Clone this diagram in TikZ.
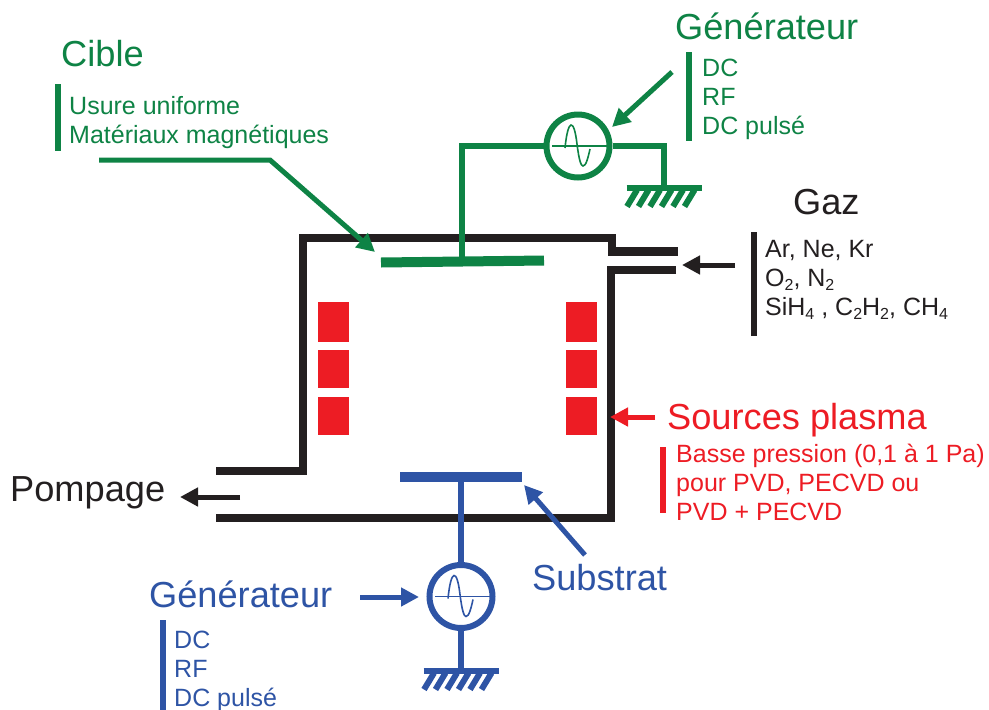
\documentclass[tikz,border=0pt]{standalone}
\usepackage{fontspec}
\setmainfont{Liberation Sans}
\usetikzlibrary{arrows.meta}
\definecolor{cgreen}{RGB}{14,131,69}
\definecolor{cblue}{RGB}{46,84,165}
\definecolor{cred}{RGB}{237,28,36}
\definecolor{cblack}{RGB}{35,31,32}
\tikzset{
  x=1pt,y=-1pt,
  big/.style={inner sep=0pt,anchor=west,font=\fontsize{36.2}{36}\selectfont},
  small/.style={inner sep=0pt,anchor=west,align=left,font=\fontsize{25}{29}\selectfont},
  wall/.style={draw=cblack,line width=8.5pt,line cap=butt,line join=miter},
  lead/.style={line width=5.5pt},
  arrowline/.style={line width=5pt,-{Triangle[length=18pt,width=18pt]}},
  sidebar/.style={line width=5.5pt},
  gencircle/.style={circle,draw,line width=6pt,minimum size=63pt,inner sep=0pt,fill=white},
  magnet/.style={fill=cred,draw=none,minimum width=31pt,inner sep=0pt},
}
\newcommand{\sbs}[1]{\raisebox{-4pt}{\fontsize{16}{16}\selectfont #1}}
\newcommand{\gensym}[2]{%
  \begin{scope}[shift={(#2)}]
  \draw[#1,line width=1.4pt] (-26,0) -- (29,0);
  \draw[#1,line width=1.6pt] (-13,2) .. controls (-10,-28) and (-4,-28) .. (-1,-2)
     .. controls (1,14) and (3,20) .. (5,20) .. controls (8,20) and (10,12) .. (12,3);
  \end{scope}
}
\newcommand{\groundsym}[2]{%
  \draw[#1,line width=6pt] (#2)+(-37.5,0) -- +(37.5,0);
  \foreach \dx in {-30,-18.5,-7,4.5,16,27.5}{
    \draw[#1,line width=6pt] (#2)+(\dx+3,2) -- +(\dx-7,18.5);
  }
}
\begin{document}
\begin{tikzpicture}
\useasboundingbox (0,0) rectangle (989,710);
% chamber
\coordinate (tubeUpEnd) at (678,251.5);
\coordinate (tubeLowEnd) at (676,270);
\coordinate (pumpUp) at (216,471);
\coordinate (pumpLow) at (216,518);
\draw[wall] (pumpUp) -- (303,471) -- (303,238) -- (612,238) -- (612,251.5) -- (tubeUpEnd);
\draw[wall] (tubeLowEnd) -- (611,270) -- (611,518) -- (pumpLow);
% magnets
\node[magnet,minimum height=40pt] (m1) at (333.5,322) {};
\node[magnet,minimum height=38pt] (m2) at (333.5,369) {};
\node[magnet,minimum height=38pt] (m3) at (333.5,416) {};
\node[magnet,minimum height=40pt] (m4) at (581.5,322) {};
\node[magnet,minimum height=38pt] (m5) at (581.5,369) {};
\node[magnet,minimum height=38pt] (m6) at (581.5,416) {};
% target
\coordinate (targetL) at (381,262.5);
\coordinate (targetR) at (544,260.5);
\coordinate (targetM) at (462,261.5);
\node[gencircle,draw=cgreen] (genG) at (578,146) {};
\coordinate (gLeadCorner) at (462,146);
\coordinate (gLeadCorner2) at (664,146);
\coordinate (gndG) at (664,188);
\draw[cgreen,lead,line join=miter] (genG.west) -- (gLeadCorner) -- (targetM);
\draw[cgreen,lead,line join=miter] (genG.east) -- (gLeadCorner2) -- (gndG);
\draw[cgreen,line width=10pt] (targetL) -- (targetR);
\gensym{cgreen}{genG}
\groundsym{cgreen}{gndG}
% substrate
\coordinate (subL) at (400,477);
\coordinate (subR) at (522,477);
\coordinate (subM) at (461,477);
\node[gencircle,draw=cblue] (genB) at (461,596.5) {};
\coordinate (gndB) at (461,671);
\draw[cblue,lead] (subM) -- (genB.north);
\draw[cblue,lead] (genB.south) -- (gndB);
\draw[cblue,line width=10pt] (subL) -- (subR);
\gensym{cblue}{genB}
\groundsym{cblue}{gndB}
% texts
\node[big,text=cgreen] (tCible) at (61,54) {Cible};
\node[small,text=cgreen] (tCibleL) at (69,123) {Usure uniforme\\Matériaux magnétiques};
\node[big,text=cgreen] (tGenG) at (675,26.5) {Générateur};
\node[small,text=cgreen] (tGenGL) at (702,99) {DC\\RF\\DC pulsé};
\node[big,text=cblack] (tGaz) at (793,202.5) {Gaz};
\node[small,text=cblack] (tGazL) at (765,280) {Ar, Ne, Kr\\O\sbs{2}, N\sbs{2}\\SiH\sbs{4} , C\sbs{2}H\sbs{2}, CH\sbs{4}};
\node[big,text=cred] (tSrc) at (667,420) {Sources plasma};
\node[small,text=cred] (tSrcL) at (676,482) {Basse pression (0,1 à 1 Pa)\\pour PVD, PECVD ou\\PVD + PECVD};
\node[big,text=cblack] (tPomp) at (10,493) {Pompage};
\node[big,text=cblue] (tSub) at (532,578) {Substrat};
\node[big,text=cblue] (tGenB) at (149,594.5) {Générateur};
\node[small,text=cblue] (tGenBL) at (174,671) {DC\\RF\\DC pulsé};
% side bars
\draw[cgreen,sidebar] (58,84) -- (58,151);
\draw[cgreen,sidebar] (689,52) -- (689,141);
\draw[cblack,sidebar] (754,232) -- (754,336);
\draw[cred,sidebar] (663,447) -- (663,513);
\draw[cblue,sidebar] (163,620) -- (163,710);
% arrows
\coordinate (aCibleStart) at (99,160);
\coordinate (aCibleBend) at (270,160);
\coordinate (aCibleEnd) at (375,252);
\draw[cgreen,arrowline] (aCibleStart) -- (aCibleBend) -- (aCibleEnd);
\coordinate (aGenStart) at (672,72);
\coordinate (aGenEnd) at (612,127);
\draw[cgreen,arrowline] (aGenStart) -- (aGenEnd);
\coordinate (aGazStart) at (735,265);
\coordinate (aGazEnd) at (682,265);
\draw[cblack,arrowline] (aGazStart) -- (aGazEnd);
\coordinate (aPompStart) at (240,497);
\coordinate (aPompEnd) at (180,497);
\draw[cblack,arrowline] (aPompStart) -- (aPompEnd);
\coordinate (aSrcStart) at (655,417);
\coordinate (aSrcEnd) at (610,417);
\draw[cred,arrowline] (aSrcStart) -- (aSrcEnd);
\coordinate (aBStart) at (360,597);
\coordinate (aBEnd) at (419,597);
\draw[cblue,arrowline] (aBStart) -- (aBEnd);
\coordinate (aSubStart) at (585,555);
\coordinate (aSubEnd) at (524,485);
\draw[cblue,arrowline] (aSubStart) -- (aSubEnd);
\end{tikzpicture}
\end{document}
